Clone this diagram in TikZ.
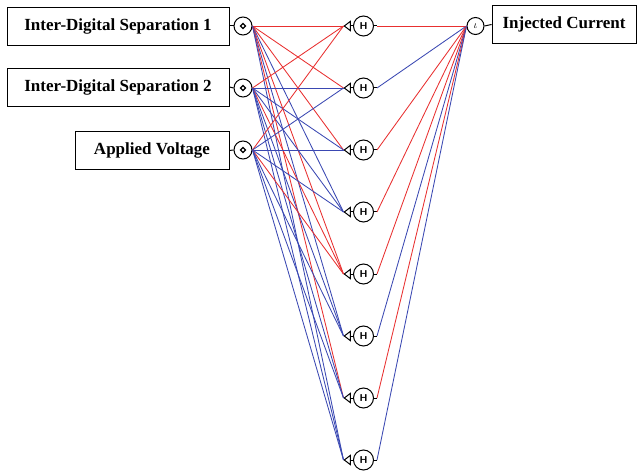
\documentclass[tikz,border=0pt]{standalone}
\usepackage{fontspec}
\setmainfont{Liberation Serif}
\usetikzlibrary{shapes.geometric}
\definecolor{wpos}{RGB}{232,48,48}
\definecolor{wneg}{RGB}{58,72,178}
\tikzset{
  lbl/.style={draw, line width=0.9pt, font=\fontsize{17}{19}\selectfont\bfseries, minimum height=38pt, inner sep=0pt},
  inp/.style={circle, draw, line width=1pt, minimum size=18pt, inner sep=0pt},
  hid/.style={circle, draw, line width=1pt, minimum size=20pt, inner sep=0pt, font=\sffamily\bfseries\fontsize{10}{10}\selectfont},
  tri/.style={isosceles triangle, shape border rotate=180, isosceles triangle apex angle=75, draw, line width=1pt, minimum height=6pt, minimum width=9pt, inner sep=0pt},
  stub/.style={line width=1pt},
  r/.style={wpos, line width=0.85pt},
  b/.style={wneg, line width=0.85pt}
}
\begin{document}
\begin{tikzpicture}[x=1pt,y=-1pt]
\useasboundingbox (0,0) rectangle (640,473);
% input boxes
\node[lbl, minimum width=222pt] (b1) at (118,26) {Inter-Digital Separation 1};
\node[lbl, minimum width=222pt] (b2) at (118,87) {Inter-Digital Separation 2};
\node[lbl, minimum width=154pt] (b3) at (152,150.5) {Applied Voltage};
% input neurons
\foreach \i/\y in {1/26,2/88,3/150}{
  \node[inp] (i\i) at (243,\y) {};
  \node[draw, diamond, line width=1.3pt, minimum size=5.5pt, inner sep=0pt] (d\i) at (i\i) {};
  \draw[stub] (b\i.east) -- (i\i.west);
}
% hidden neurons
\foreach \k in {1,...,8}{
  \pgfmathsetmacro{\yy}{26+62*(\k-1)}
  \node[hid] (h\k) at (363.5,\yy) {H};
  \node[tri, anchor=apex] (t\k) at (343.5,\yy) {};
  \coordinate (e\k) at (377,\yy);
  \draw[stub] (t\k.east) -- (h\k.west);
  \draw[stub] (h\k.east) -- (e\k);
}
% output neuron
\node[lbl, minimum width=144pt] (bo) at (564,24.5) {Injected Current};
\node[circle, draw, line width=1pt, minimum size=17pt, inner sep=0pt, font=\fontsize{11}{11}\selectfont] (o) at (475.5,26) {$\iota$};
\draw[stub] (o.east) -- (bo.west);
% input -> hidden
\foreach \k/\c in {1/r,2/r,3/r,4/b,5/r,6/b,7/r,8/b}{ \draw[\c] (i1.east) -- (t\k.apex); }
\foreach \k/\c in {1/r,2/b,3/b,4/b,5/r,6/b,7/b,8/b}{ \draw[\c] (i2.east) -- (t\k.apex); }
\foreach \k/\c in {1/r,2/b,3/b,4/b,5/r,6/b,7/b,8/b}{ \draw[\c] (i3.east) -- (t\k.apex); }
% hidden -> output
\foreach \k/\c in {1/r,2/b,3/r,4/r,5/r,6/b,7/r,8/b}{ \draw[\c] (e\k) -- (o.west); }
\end{tikzpicture}
\end{document}
